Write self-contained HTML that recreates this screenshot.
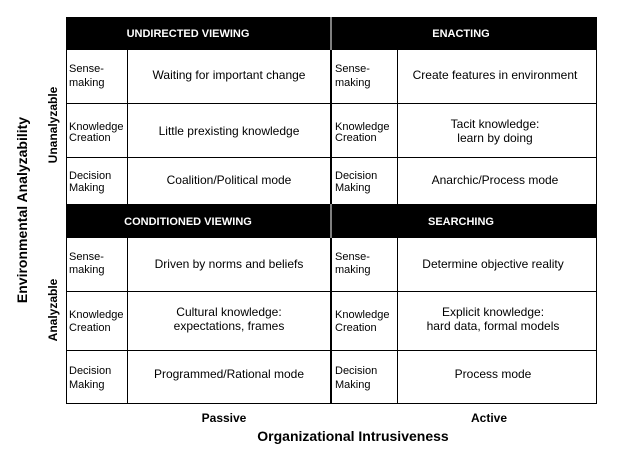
<!DOCTYPE html>
<html><head><style>body{margin:0;background:#fff}svg{display:block}</style></head><body>
<svg width="623" height="455" xmlns="http://www.w3.org/2000/svg" font-family="Liberation Sans, Arial, sans-serif">
<rect x="0" y="0" width="623" height="455" fill="#fff"/>
<rect x="66" y="17" width="531" height="33" fill="#000"/>
<rect x="66" y="204" width="531" height="34" fill="#000"/>
<line x1="331" y1="17" x2="331" y2="50" stroke="#fff" stroke-width="1"/>
<line x1="331" y1="204" x2="331" y2="238" stroke="#fff" stroke-width="1"/>
<g stroke="#000" fill="none">
<line x1="66.5" y1="17" x2="66.5" y2="404"/>
<line x1="596.5" y1="17" x2="596.5" y2="404"/>
<line x1="66" y1="403.5" x2="597" y2="403.5"/>
<line x1="331" y1="50" x2="331" y2="204" stroke-width="2"/>
<line x1="331" y1="238" x2="331" y2="404" stroke-width="2"/>
<line x1="127.5" y1="50" x2="127.5" y2="204"/>
<line x1="127.5" y1="238" x2="127.5" y2="404"/>
<line x1="397.5" y1="50" x2="397.5" y2="204"/>
<line x1="397.5" y1="238" x2="397.5" y2="404"/>
<line x1="66" y1="103.5" x2="597" y2="103.5"/>
<line x1="66" y1="157.5" x2="597" y2="157.5"/>
<line x1="66" y1="291.5" x2="597" y2="291.5"/>
<line x1="66" y1="350.5" x2="597" y2="350.5"/>
</g>
<g fill="#fff" font-weight="bold" font-size="11" text-anchor="middle">
<text x="188" y="37">UNDIRECTED VIEWING</text>
<text x="461" y="37">ENACTING</text>
<text x="188" y="225">CONDITIONED VIEWING</text>
<text x="461" y="225">SEARCHING</text>
</g>
<g font-size="11" fill="#000">
<text x="69" y="72">Sense-</text><text x="69" y="86">making</text>
<text x="69" y="130">Knowledge</text><text x="69" y="141">Creation</text>
<text x="69" y="179">Decision</text><text x="69" y="191">Making</text>
<text x="335" y="72">Sense-</text><text x="335" y="86">making</text>
<text x="335" y="130">Knowledge</text><text x="335" y="141">Creation</text>
<text x="335" y="179">Decision</text><text x="335" y="191">Making</text>
<text x="69" y="260">Sense-</text><text x="69" y="273">making</text>
<text x="69" y="318">Knowledge</text><text x="69" y="331">Creation</text>
<text x="69" y="374">Decision</text><text x="69" y="388">Making</text>
<text x="335" y="260">Sense-</text><text x="335" y="273">making</text>
<text x="335" y="318">Knowledge</text><text x="335" y="331">Creation</text>
<text x="335" y="374">Decision</text><text x="335" y="388">Making</text>
</g>
<g font-size="12" fill="#000" text-anchor="middle">
<text x="229" y="79">Waiting for important change</text>
<text x="229" y="135">Little prexisting knowledge</text>
<text x="229" y="184">Coalition/Political mode</text>
<text x="495" y="79">Create features in environment</text>
<text x="495" y="128">Tacit knowledge:</text><text x="495" y="142">learn by doing</text>
<text x="495" y="184">Anarchic/Process mode</text>
<text x="229" y="268">Driven by norms and beliefs</text>
<text x="229" y="316">Cultural knowledge:</text><text x="229" y="330">expectations, frames</text>
<text x="229" y="378">Programmed/Rational mode</text>
<text x="493" y="268">Determine objective reality</text>
<text x="493" y="316">Explicit knowledge:</text><text x="493" y="330">hard data, formal models</text>
<text x="493" y="378">Process mode</text>
</g>
<g font-weight="bold" fill="#000" text-anchor="middle">
<text x="224" y="422" font-size="12">Passive</text>
<text x="489" y="422" font-size="12">Active</text>
<text x="353" y="441" font-size="14">Organizational Intrusiveness</text>
<text transform="translate(27,210) rotate(-90)" font-size="14">Environmental Analyzability</text>
<text transform="translate(57,125) rotate(-90)" font-size="12">Unanalyzable</text>
<text transform="translate(57,310) rotate(-90)" font-size="12">Analyzable</text>
</g>
</svg>
</body></html>
